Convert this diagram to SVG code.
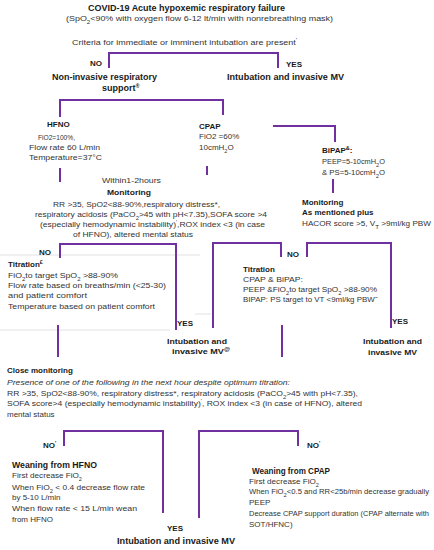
<svg xmlns="http://www.w3.org/2000/svg" width="434" height="550" viewBox="0 0 434 550">
<style>
text{font-family:"Liberation Sans",Arial,sans-serif;font-size:8px;fill:#333}
.b{font-weight:bold;fill:#1a1a1a}
.h{font-size:9px}
.i{font-style:italic}
.s{font-size:7.3px}
.c{fill:none;stroke:#7030A0;stroke-width:2}
.g{stroke:#e2e2e2;stroke-width:1}
.sub{font-size:5.5px;baseline-shift:sub}
.sup{font-size:5.5px;baseline-shift:super}
</style>
<rect width="434" height="550" fill="#fff"/>
<g id="artifacts">
<line class="g" x1="0" y1="255" x2="200" y2="255"/>
<line class="g" x1="0" y1="330" x2="170" y2="330"/>
<line class="g" x1="195" y1="314" x2="211" y2="314"/>
</g>
<g id="connectors">
<path class="c" d="M109,68V53H278V68"/>
<path class="c" d="M60,117V100H223V115"/>
<path class="c" d="M273,126H335V142"/>
<path class="c" d="M60,168V182"/>
<path class="c" d="M207,166V175"/>
<path class="c" d="M333,179V193"/>
<path class="c" d="M60,258V244H176V330"/>
<path class="c" d="M213,328V243H281V257"/>
<path class="c" d="M307,257V243H391V328"/>
<path class="c" d="M58,325V357"/>
<path class="c" d="M282,325V357"/>
<path class="c" d="M64,446V431H163V513"/>
<path class="c" d="M199,518V431H298V446"/>
</g>
<g id="start">
<text class="b h" x="88" y="11" textLength="197" lengthAdjust="spacingAndGlyphs">COVID-19 Acute hypoxemic respiratory failure</text>
<text x="66" y="21" textLength="267" lengthAdjust="spacingAndGlyphs">(SpO<tspan class="sub">2</tspan>&lt;90% with oxygen flow 6-12 lt/min with nonrebreathing mask)</text>
</g>
<g id="criteria">
<text x="72" y="45" textLength="225" lengthAdjust="spacingAndGlyphs">Criteria for immediate or imminent intubation are present<tspan class="sup">'</tspan></text>
<text class="b" x="90" y="66">NO</text>
<text class="b" x="286" y="67">YES</text>
</g>
<g id="niv">
<text class="b h" x="52" y="80" textLength="105" lengthAdjust="spacingAndGlyphs">Non-invasive respiratory</text>
<text class="b h" x="102" y="91">support<tspan class="sup">®</tspan></text>
</g>
<g id="intubation1">
<text class="b h" x="227" y="80" textLength="117" lengthAdjust="spacingAndGlyphs">Intubation and invasive MV</text>
</g>
<g id="hfno">
<text class="b" x="47" y="127">HFNO</text>
<text x="38" y="140" textLength="37" lengthAdjust="spacingAndGlyphs">FiO2=100%,</text>
<text x="29" y="150" textLength="71" lengthAdjust="spacingAndGlyphs">Flow rate 60 L/min</text>
<text x="29" y="160" textLength="73" lengthAdjust="spacingAndGlyphs">Temperature=37°C</text>
</g>
<g id="cpap">
<text class="b" x="199" y="129">CPAP</text>
<text x="199" y="139">FiO2 =60%</text>
<text x="199" y="150">10cmH<tspan class="sub">2</tspan>O</text>
</g>
<g id="bipap">
<text class="b" x="322" y="153">BiPAP<tspan class="sup">&amp;</tspan>:</text>
<text class="s" x="322" y="164" textLength="63" lengthAdjust="spacingAndGlyphs">PEEP=5-10cmH<tspan class="sub">2</tspan>O</text>
<text class="s" x="322" y="175" textLength="63" lengthAdjust="spacingAndGlyphs">&amp; PS=5-10cmH<tspan class="sub">2</tspan>O</text>
</g>
<g id="monitoring1">
<text x="102" y="183" textLength="59" lengthAdjust="spacingAndGlyphs">Within1-2hours</text>
<text class="b" x="107" y="195" textLength="44" lengthAdjust="spacingAndGlyphs">Monitoring</text>
<text x="53" y="207" textLength="167" lengthAdjust="spacingAndGlyphs">RR &gt;35, SpO2&lt;88-90%,respiratory distress*,</text>
<text x="35" y="217" textLength="232" lengthAdjust="spacingAndGlyphs">respiratory acidosis (PaCO<tspan class="sub">2</tspan>&gt;45 with pH&lt;7.35),SOFA score &gt;4</text>
<text x="40" y="227" textLength="225" lengthAdjust="spacingAndGlyphs">(especially hemodynamic instability)<tspan class="sup">'</tspan>,ROX index &lt;3 (in case</text>
<text x="73" y="237" textLength="120" lengthAdjust="spacingAndGlyphs">of HFNO), altered mental status</text>
</g>
<g id="monitoring2">
<text class="b" x="302" y="205">Monitoring</text>
<text class="b" x="302" y="215">As mentioned plus</text>
<text class="s" x="302" y="226" textLength="129" lengthAdjust="spacingAndGlyphs">HACOR score &gt;5, V<tspan class="sub">T</tspan> &gt;9ml/kg PBW</text>
</g>
<g id="titration1">
<text class="b" x="39" y="255">NO</text>
<text class="b" x="8" y="267">Titration<tspan class="sup">£</tspan></text>
<text x="8" y="278" textLength="110" lengthAdjust="spacingAndGlyphs">FiO<tspan class="sub">2</tspan>to target SpO<tspan class="sub">2</tspan> &gt;88-90%</text>
<text x="8" y="288" textLength="158" lengthAdjust="spacingAndGlyphs">Flow rate based on breaths/min (&lt;25-30)</text>
<text x="8" y="298" textLength="79" lengthAdjust="spacingAndGlyphs">and patient comfort</text>
<text x="8" y="309" textLength="147" lengthAdjust="spacingAndGlyphs">Temperature based on patient comfort</text>
</g>
<g id="intubation2">
<text class="b" x="177" y="326">YES</text>
<text class="b" x="167" y="344" textLength="60" lengthAdjust="spacingAndGlyphs">Intubation and</text>
<text class="b" x="172" y="354" textLength="58" lengthAdjust="spacingAndGlyphs">invasive MV<tspan class="sup">@</tspan></text>
</g>
<g id="titration2">
<text class="b" x="287" y="257">NO</text>
<text class="b" x="243" y="272">Titration</text>
<text x="243" y="282" textLength="60" lengthAdjust="spacingAndGlyphs">CPAP &amp; BiPAP:</text>
<text x="243" y="292" textLength="134" lengthAdjust="spacingAndGlyphs">PEEP &amp;FiO<tspan class="sub">2</tspan>to target SpO<tspan class="sub">2</tspan> &gt;88-90%</text>
<text x="243" y="302" textLength="135" lengthAdjust="spacingAndGlyphs">BIPAP: PS target to VT &lt;9ml/kg PBW<tspan class="sup">~</tspan></text>
</g>
<g id="intubation3">
<text class="b" x="392" y="324">YES</text>
<text class="b" x="363" y="344" textLength="59" lengthAdjust="spacingAndGlyphs">Intubation and</text>
<text class="b" x="368" y="355" textLength="49" lengthAdjust="spacingAndGlyphs">invasive MV</text>
</g>
<g id="closemonitoring">
<text class="b" x="7" y="373">Close monitoring</text>
<text class="i" x="7" y="385" textLength="283" lengthAdjust="spacingAndGlyphs">Presence of one of the following in the next hour despite optimum titration:</text>
<text x="7" y="396" textLength="351" lengthAdjust="spacingAndGlyphs">RR &gt;35, SpO2&lt;88-90%, respiratory distress*, respiratory acidosis (PaCO<tspan class="sub">2</tspan>&gt;45 with pH&lt;7.35),</text>
<text x="7" y="406" textLength="355" lengthAdjust="spacingAndGlyphs">SOFA score&gt;4 (especially hemodynamic instability)<tspan class="sup">'</tspan>, ROX index &lt;3 (in case of HFNO), altered</text>
<text x="7" y="417">mental status</text>
</g>
<g id="weaninghfno">
<text class="b" x="43" y="448">NO<tspan class="sup">'</tspan></text>
<text class="b h" x="12" y="468" textLength="85" lengthAdjust="spacingAndGlyphs">Weaning from HFNO</text>
<text x="12" y="478" textLength="70" lengthAdjust="spacingAndGlyphs">First decrease FiO<tspan class="sub">2</tspan></text>
<text x="12" y="490" textLength="133" lengthAdjust="spacingAndGlyphs">When FiO<tspan class="sub">2</tspan> &lt; 0.4 decrease flow rate</text>
<text x="12" y="500">by 5-10 L/min</text>
<text x="12" y="511" textLength="125" lengthAdjust="spacingAndGlyphs">When flow rate &lt; 15 L/min wean</text>
<text x="12" y="522">from HFNO</text>
</g>
<g id="intubation4">
<text class="b" x="167" y="531">YES</text>
<text class="b h" x="117" y="544" textLength="118" lengthAdjust="spacingAndGlyphs">Intubation and invasive MV</text>
</g>
<g id="weaningcpap">
<text class="b" x="307" y="448">NO<tspan class="sup">'</tspan></text>
<text class="b h" x="252" y="474" textLength="78" lengthAdjust="spacingAndGlyphs">Weaning from CPAP</text>
<text x="249" y="484" textLength="70" lengthAdjust="spacingAndGlyphs">First decrease FiO<tspan class="sub">2</tspan></text>
<text class="s" x="249" y="494" textLength="180" lengthAdjust="spacingAndGlyphs">When FiO<tspan class="sub">2</tspan>&lt;0.5 and RR&lt;25b/min decrease gradually</text>
<text x="249" y="505">PEEP</text>
<text class="s" x="249" y="516" textLength="180" lengthAdjust="spacingAndGlyphs">Decrease CPAP support duration (CPAP alternate with</text>
<text x="249" y="527">SOT/HFNC)</text>
</g>
</svg>
